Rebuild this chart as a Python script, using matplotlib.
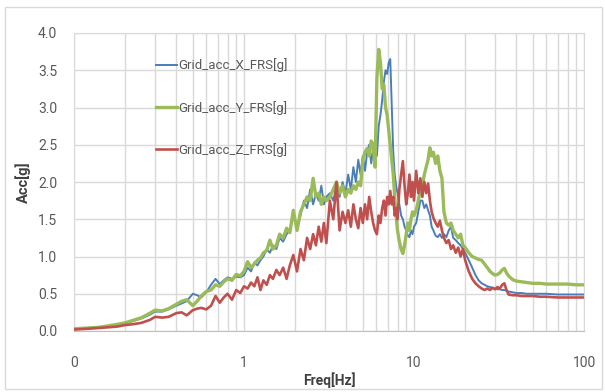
import matplotlib; matplotlib.use("Agg")
import matplotlib.pyplot as plt
from matplotlib.ticker import FixedLocator, LogLocator, NullFormatter
import matplotlib.patches as mpatches

C_X, C_Y, C_Z = "#4A7EBB", "#9BBB59", "#C0504D"
C_GRID, C_TXT = "#D9D9D9", "#595959"

freq = [0.10, 0.12, 0.14, 0.16, 0.18, 0.20, 0.22, 0.25, 0.28, 0.30, 0.33, 0.36, 0.40,
        0.43, 0.46, 0.50, 0.53, 0.56, 0.60, 0.64, 0.68, 0.72, 0.76, 0.80, 0.85, 0.90,
        0.95, 1.00,
        1.05, 1.10, 1.15, 1.20, 1.25, 1.30, 1.36, 1.42, 1.48, 1.55, 1.62, 1.70, 1.78,
        1.86, 1.95, 2.05, 2.15, 2.25, 2.35, 2.45, 2.55, 2.65, 2.75, 2.85, 2.95, 3.05,
        3.2, 3.35, 3.5, 3.65, 3.8, 3.95, 4.1, 4.25, 4.4, 4.55, 4.7, 4.85, 5.0, 5.15,
        5.3, 5.45, 5.6, 5.75, 5.9, 6.05, 6.2, 6.35, 6.5, 6.65, 6.8, 6.95, 7.1, 7.25,
        7.4, 7.55, 7.7, 7.85, 8.0, 8.2, 8.4, 8.6, 8.8, 9.0, 9.2, 9.4, 9.6, 9.8, 10.0,
        10.3, 10.6, 10.9, 11.2, 11.5, 11.8, 12.1, 12.4, 12.7, 13.0, 13.4, 13.8, 14.2,
        14.6, 15.0, 15.5, 16.0, 16.5, 17.0, 17.6, 18.2, 18.8, 19.4, 20, 21, 22, 23, 24,
        25, 26, 27, 28, 29, 30, 31, 32, 33, 34, 35, 36, 38, 40, 43, 46, 50, 55, 60, 70,
        80, 90, 100]

acc_x = [0.03, 0.04, 0.05, 0.06, 0.08, 0.10, 0.13, 0.17, 0.22, 0.26, 0.26, 0.29, 0.34,
         0.37, 0.40, 0.50, 0.48, 0.45, 0.52, 0.62, 0.70, 0.63, 0.68, 0.72, 0.70, 0.73,
         0.72, 0.75,
         0.85, 0.80, 0.92, 0.88, 0.95, 1.00, 1.10, 1.05, 1.15, 1.10, 1.25, 1.20, 1.30,
         1.35, 1.55, 1.40, 1.55, 1.75, 1.65, 1.90, 1.70, 1.85, 1.75, 1.95, 1.70, 1.80,
         1.85, 1.75, 1.95, 1.80, 2.00, 1.85, 2.10, 1.90, 2.20, 2.00, 2.30, 2.10, 2.35,
         2.15, 2.40, 2.50, 2.25, 2.45, 2.40, 2.35, 2.75, 2.90, 3.10, 3.35, 3.50, 3.45,
         3.60, 3.65, 3.00, 2.40, 2.10, 1.95, 1.85, 1.70, 1.55, 1.50, 1.40, 1.35, 1.28,
         1.26, 1.35, 1.30, 1.40,
         1.45, 1.60, 1.75, 1.75, 1.65, 1.70, 1.62, 1.55, 1.40, 1.35, 1.28, 1.26, 1.30,
         1.25, 1.30, 1.26, 1.35, 1.40, 1.25, 1.22, 1.18, 1.15, 1.10, 1.05, 0.95, 0.85,
         0.75, 0.68, 0.64, 0.62, 0.60, 0.59, 0.58, 0.57, 0.56, 0.56, 0.55, 0.55, 0.54,
         0.53, 0.52, 0.51, 0.51, 0.50, 0.50, 0.50, 0.50, 0.49, 0.49, 0.49, 0.49]

acc_y = [0.03, 0.04, 0.05, 0.07, 0.09, 0.11, 0.14, 0.18, 0.24, 0.28, 0.27, 0.30, 0.36,
         0.40, 0.42, 0.34, 0.40, 0.47, 0.53, 0.55, 0.62, 0.60, 0.66, 0.70, 0.68, 0.76,
         0.74, 0.80,
         0.93, 0.85, 0.90, 0.95, 0.98, 1.05, 1.08, 1.22, 1.10, 1.15, 1.30, 1.25, 1.38,
         1.32, 1.62, 1.35, 1.60, 1.70, 1.80, 1.75, 2.05, 1.80, 1.85, 1.70, 1.80, 1.75,
         1.80, 1.90, 2.00, 1.85, 1.95, 1.80, 1.90, 1.85, 1.95, 1.90, 2.00, 1.95, 2.30,
         2.40, 2.45, 2.35, 2.55, 2.50, 2.20, 3.40, 3.78, 3.60, 3.25, 3.30, 3.00, 2.90,
         2.70, 2.50, 2.30, 2.10, 1.80, 1.55, 1.35, 1.20, 1.10, 1.04, 1.15, 1.30, 1.45,
         1.35, 1.50, 1.60, 1.55,
         1.62, 1.75, 1.90, 1.95, 2.10, 2.20, 2.30, 2.46, 2.35, 2.40, 2.25, 2.35, 2.15,
         2.05, 1.60, 1.45, 1.42, 1.45, 1.35, 1.30, 1.25, 1.30, 1.15, 1.12, 1.05, 1.00,
         0.98, 0.96, 0.95, 0.90, 0.85, 0.80, 0.77, 0.75, 0.76, 0.78, 0.82, 0.84, 0.78,
         0.74, 0.69, 0.67, 0.66, 0.65, 0.64, 0.64, 0.63, 0.63, 0.63, 0.62, 0.62]

acc_z = [0.02, 0.03, 0.04, 0.05, 0.06, 0.08, 0.09, 0.11, 0.15, 0.19, 0.18, 0.19, 0.24,
         0.25, 0.21, 0.28, 0.30, 0.31, 0.29, 0.34, 0.47, 0.38, 0.45, 0.50, 0.42, 0.55,
         0.51, 0.60,
         0.57, 0.65, 0.60, 0.72, 0.55, 0.68, 0.62, 0.75, 0.70, 0.82, 0.75, 0.85, 0.70,
         0.88, 1.02, 0.80, 1.10, 0.95, 1.25, 1.10, 1.30, 1.15, 1.40, 1.20, 1.45, 1.18,
         1.75, 1.50, 2.00, 1.35, 1.60, 1.45, 1.62, 1.40, 1.70, 1.50, 1.38, 1.65, 1.45,
         1.70, 1.50, 1.80, 1.60, 1.45, 1.35, 1.30, 1.55, 1.45, 1.65, 1.75, 1.55, 1.80,
         1.70, 1.88, 1.70, 1.80, 1.55, 1.65, 1.50, 1.90, 2.10, 2.28, 1.95, 1.70, 1.85,
         2.10, 1.80, 2.00, 1.75,
         2.15, 1.85, 2.05, 1.80, 2.00, 1.85, 1.98, 1.75, 1.60, 1.52, 1.45, 1.40, 1.48,
         1.35, 1.25, 1.18, 1.22, 1.10, 1.15, 1.05, 1.12, 1.00, 1.10, 0.95, 0.80, 0.70,
         0.64, 0.60, 0.57, 0.55, 0.57, 0.55, 0.58, 0.56, 0.59, 0.57, 0.62, 0.64, 0.55,
         0.49, 0.48, 0.48, 0.47, 0.47, 0.47, 0.46, 0.46, 0.45, 0.45, 0.45, 0.45]

series = ["Grid_acc_X_FRS[g]", "Grid_acc_Y_FRS[g]", "Grid_acc_Z_FRS[g]"]
y_ticks = [0.0, 0.5, 1.0, 1.5, 2.0, 2.5, 3.0, 3.5, 4.0]
x_ticks = [0.1, 1, 10, 100]
x_labels = ["0", "1", "10", "100"]

plt.rcParams["font.family"] = ["Roboto", "DejaVu Sans"]

fig = plt.figure(figsize=(6.05, 3.92), dpi=100, facecolor="white")
ax = fig.add_axes([74 / 605, 1 - 331 / 392, 510 / 605, 298 / 392])

for vals, col, lw, lbl in [(acc_x, C_X, 1.4, series[0]),
                           (acc_y, C_Y, 2.4, series[1]),
                           (acc_z, C_Z, 1.9, series[2])]:
    ax.plot(freq, vals, color=col, lw=lw, label=lbl, zorder=3)

ax.set_xscale("log")
ax.set_xlim(0.1, 100)
ax.set_ylim(0, 4.0)
ax.xaxis.set_major_locator(FixedLocator(x_ticks))
ax.set_xticklabels(x_labels)
ax.xaxis.set_minor_locator(LogLocator(base=10, subs=range(2, 10)))
ax.xaxis.set_minor_formatter(NullFormatter())
ax.set_yticks(y_ticks)
ax.set_yticklabels([f"{v:.1f}" for v in y_ticks])
ax.grid(True, which="both", axis="x", color=C_GRID, lw=1.0)
ax.grid(True, which="major", axis="y", color=C_GRID, lw=1.0)
ax.set_axisbelow(True)
ax.tick_params(which="both", length=0, labelsize=10, colors=C_TXT)
ax.tick_params(axis="x", pad=18)
ax.tick_params(axis="y", pad=12)
for s in ax.spines.values():
    s.set_color(C_GRID)
ax.spines["bottom"].set_color("#BFBFBF")

ax.set_xlabel("Freq[Hz]", fontsize=10, fontweight="bold", color="#404040", labelpad=2)
ax.set_ylabel("Acc[g]", fontsize=10.5, fontweight="bold", color="#404040", labelpad=5)

ax.legend(loc="upper left", bbox_to_anchor=(0.138, 0.955), frameon=False,
          fontsize=9.5, labelspacing=2.15, handlelength=1.6, handletextpad=0.1,
          labelcolor=C_TXT)

fig.patches.append(mpatches.Rectangle((5 / 605, 3 / 392), 597 / 605, 382 / 392,
                                      transform=fig.transFigure, fill=False,
                                      edgecolor="#D9D9D9", lw=1.0))

fig.savefig("out.png", dpi=100, facecolor="white")
